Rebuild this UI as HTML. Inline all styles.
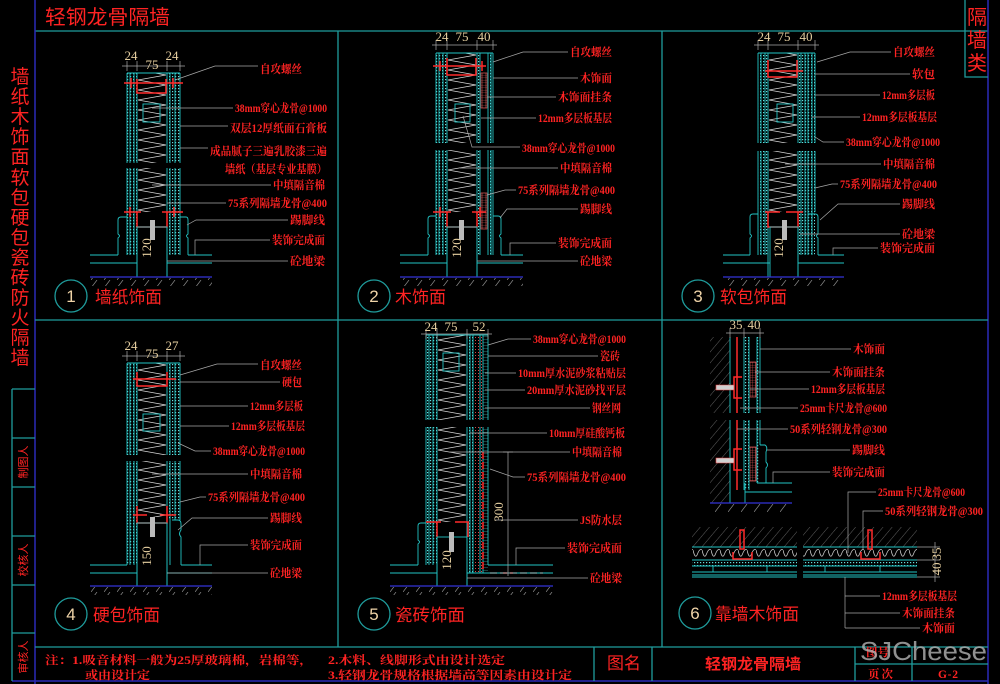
<!DOCTYPE html>
<html><head><meta charset="utf-8"><style>
html,body{margin:0;padding:0;background:#000;}
svg{display:block;}
.lb{font-family:"Liberation Serif","Noto Serif CJK SC",serif;font-size:11.5px;font-weight:bold;fill:#ff2323;}
.hd{font-family:"Liberation Sans","Noto Sans CJK SC",sans-serif;fill:#ff2323;}
.dm{font-family:"Liberation Serif","Noto Serif CJK SC",serif;font-size:13px;fill:#e6cfa0;}
.nm{font-family:"Liberation Sans",sans-serif;font-size:17px;fill:#f0d4a8;}
.cy{stroke:#22c4c4;stroke-width:0.9;fill:none;}
.rd{stroke:#ff2a2a;stroke-width:1.5;fill:none;}
.ld{stroke:#a8a8a8;stroke-width:0.7;fill:none;}
.gr{stroke:#1f9c9c;stroke-width:1.3;fill:none;}
.bl{stroke:#2a2ab8;stroke-width:1.5;fill:none;}
.gd{stroke:#3434d8;stroke-width:1.2;fill:none;}
</style></head><body>
<svg width="1000" height="684" viewBox="0 0 1000 684" xmlns="http://www.w3.org/2000/svg">
<defs>
<pattern id="dots" width="3" height="3" patternUnits="userSpaceOnUse"><rect x="1" y="1" width="1.2" height="1.2" fill="#6dd"/></pattern>
<pattern id="rdots" width="3" height="3" patternUnits="userSpaceOnUse"><rect x="1" y="1" width="1" height="1" fill="#d44"/></pattern>
<pattern id="hatch" width="7" height="7" patternUnits="userSpaceOnUse" patternTransform="rotate(40)"><line x1="0" y1="0" x2="0" y2="7" stroke="#8a8a8a" stroke-width="0.7"/></pattern>
<pattern id="ghatch" width="13" height="8" patternUnits="userSpaceOnUse"><line x1="0" y1="8" x2="6" y2="0" stroke="#8a8a8a" stroke-width="0.7"/></pattern>
<pattern id="zz1" x="137" y="0" width="30" height="10" patternUnits="userSpaceOnUse"><path d="M1 0L29 5L1 10" fill="none" stroke="#d8d8d8" stroke-width="0.7"/></pattern>
<pattern id="zz2" x="447" y="0" width="30" height="10" patternUnits="userSpaceOnUse"><path d="M1 0L29 5L1 10" fill="none" stroke="#d8d8d8" stroke-width="0.7"/></pattern>
<pattern id="zz3" x="768" y="0" width="30" height="10" patternUnits="userSpaceOnUse"><path d="M1 0L29 5L1 10" fill="none" stroke="#d8d8d8" stroke-width="0.7"/></pattern>
<pattern id="pink" width="2.5" height="2.5" patternUnits="userSpaceOnUse"><path d="M0 0H2.5M0 0V2.5" stroke="#e05a5a" stroke-width="0.6"/></pattern>
<pattern id="tile" width="5" height="3" patternUnits="userSpaceOnUse"><path d="M0 0H5" stroke="#5cc" stroke-width="0.6"/></pattern>
<pattern id="wave" x="0" y="548" width="9" height="12" patternUnits="userSpaceOnUse"><path d="M0 2Q2.25 12 4.5 6Q6.75 0 9 2" fill="none" stroke="#c8c8c8" stroke-width="0.8"/></pattern>
</defs>
<rect width="1000" height="684" fill="#000"/>

<!-- FRAME -->
<text class="hd" x="45" y="24" font-size="20" textLength="125" lengthAdjust="spacingAndGlyphs">轻钢龙骨隔墙</text>
<path class="gr" d="M35 31H988"/>
<path class="bl" d="M35 0V684M988 0V684M12 681H988"/>
<path class="gr" d="M965 0V77H988"/>
<g class="hd" font-size="20" text-anchor="middle">
<text x="977" y="24">隔</text><text x="977" y="47">墙</text><text x="977" y="70">类</text>
</g>
<path class="gr" d="M338 31V647M662 31V647M35 320H988M35 647H988"/>
<g class="hd" font-size="19" text-anchor="middle">
<text x="20" y="83">墙</text><text x="20" y="103">纸</text><text x="20" y="123">木</text><text x="20" y="143">饰</text><text x="20" y="163">面</text><text x="20" y="184">软</text><text x="20" y="204">包</text><text x="20" y="224">硬</text><text x="20" y="244">包</text><text x="20" y="264">瓷</text><text x="20" y="284">砖</text><text x="20" y="304">防</text><text x="20" y="324">火</text><text x="20" y="344">隔</text><text x="20" y="364">墙</text>
</g>
<path class="gr" d="M12 389V681M12 389H35M12 438H35M12 487H35M12 536H35M12 585H35M12 633H35"/>
<g class="hd" font-size="11" fill="#d82020" text-anchor="middle">
<text transform="translate(27 462) rotate(-90)">制图人</text>
<text transform="translate(27 560) rotate(-90)">校核人</text>
<text transform="translate(27 657) rotate(-90)">审核人</text>
</g>

<!-- BOTTOM BAR -->
<path class="gr" d="M594 647V681M652 647V681M855 647V681M912 647V681M855 664H988"/>
<g class="lb" font-weight="normal" fill="#e02020" font-size="11.5">
<text x="45" y="664" textLength="268" lengthAdjust="spacingAndGlyphs">注：1.吸音材料一般为25厚玻璃棉，岩棉等，</text>
<text x="85" y="679" textLength="65" lengthAdjust="spacingAndGlyphs">或由设计定</text>
<text x="328" y="664" textLength="177" lengthAdjust="spacingAndGlyphs">2.木料、线脚形式由设计选定</text>
<text x="328" y="679" textLength="244" lengthAdjust="spacingAndGlyphs">3.轻钢龙骨规格根据墙高等因素由设计定</text>
</g>
<text class="hd" x="607" y="669" font-size="17" fill="#e02020" textLength="34" lengthAdjust="spacingAndGlyphs">图名</text>
<text class="hd" x="705" y="669" font-size="15" font-weight="bold" textLength="96" lengthAdjust="spacingAndGlyphs">轻钢龙骨隔墙</text>
<text class="lb" x="866" y="656" font-size="11" font-weight="normal" fill="#d02020">图号</text>
<text class="lb" x="868" y="678" font-size="12" font-weight="normal" fill="#e02020" textLength="25">页次</text>
<text class="lb" x="938" y="678" font-size="12" font-weight="normal" fill="#e02020" textLength="20">G-2</text>
<text x="860" y="660" font-family="Liberation Sans, sans-serif" font-size="26" fill="#b4b4b4" fill-opacity="0.8" textLength="127" lengthAdjust="spacingAndGlyphs">SJCheese</text>

<!-- ================= PANEL 1 ================= -->
<rect x="127" y="73" width="10" height="182" fill="url(#dots)"/>
<rect x="167" y="73" width="13" height="182" fill="url(#dots)"/>
<rect x="137" y="73" width="30" height="139" fill="url(#zz1)"/>
<path class="cy" d="M127 73V255M130 73V255M134 73V255M137 73V277M167 73V277M170 73V255M175 73V255M180 73V255M127 73H180"/>
<rect x="143" y="104" width="17" height="18" fill="#000" class="cy"/>
<rect x="120" y="163" width="66" height="5" fill="#000"/>
<path class="rd" d="M124 83H183M137 79V93H166V79M131 78V88M173 78V88"/>
<path class="rd" d="M124 212H141M162 212H183M137 212V227H167V212M130 207V217M174 207V217"/>
<rect x="137" y="227" width="30" height="50" fill="url(#hatch)" class="cy"/>
<rect x="150" y="220" width="5" height="20" fill="#bbb"/>
<path class="cy" d="M127 217H121Q118 217 118 220V234Q121 236 118 238V255M180 217H186Q188 217 188 220V234Q185 236 188 238V255"/>
<path class="cy" d="M90 255H118M188 255H212M90 263H137M167 263H212"/>
<path class="gd" d="M90 277H212"/>
<rect x="90" y="278" width="122" height="8" fill="url(#ghatch)"/>
<path class="ld" d="M122 66H185M127 61V71M137 61V71M167 61V71M180 61V71"/>
<text class="dm" x="131" y="60" text-anchor="middle">24</text><text class="dm" x="152" y="69" text-anchor="middle">75</text><text class="dm" x="172" y="60" text-anchor="middle">24</text>
<text class="dm" font-size="11" transform="translate(151 248) rotate(-90)" text-anchor="middle">120</text>
<path class="ld" d="M175 80L215 66H258M152 108H233M180 126H228M180 148H208M152 185H271M167 203H226M187 225L196 220H288M195 255V240H270M167 261H288"/>
<text class="lb" x="260" y="73" textLength="42" lengthAdjust="spacingAndGlyphs">自攻螺丝</text>
<text class="lb" x="235" y="112" textLength="92" lengthAdjust="spacingAndGlyphs">38mm穿心龙骨@1000</text>
<text class="lb" x="230" y="132" textLength="97" lengthAdjust="spacingAndGlyphs">双层12厚纸面石膏板</text>
<text class="lb" x="210" y="155" textLength="117" lengthAdjust="spacingAndGlyphs">成品腻子三遍乳胶漆三遍</text>
<text class="lb" x="225" y="173" textLength="102" lengthAdjust="spacingAndGlyphs">墙纸（基层专业基膜）</text>
<text class="lb" x="273" y="189" textLength="52" lengthAdjust="spacingAndGlyphs">中填隔音棉</text>
<text class="lb" x="228" y="207" textLength="99" lengthAdjust="spacingAndGlyphs">75系列隔墙龙骨@400</text>
<text class="lb" x="290" y="224" textLength="35" lengthAdjust="spacingAndGlyphs">踢脚线</text>
<text class="lb" x="272" y="244" textLength="53" lengthAdjust="spacingAndGlyphs">装饰完成面</text>
<text class="lb" x="290" y="265" textLength="35" lengthAdjust="spacingAndGlyphs">砼地梁</text>
<circle cx="71" cy="296" r="16" class="gr" stroke-width="1.1"/>
<text class="nm" x="71" y="302" text-anchor="middle">1</text>
<text class="hd" x="95" y="303" font-size="17" textLength="67" lengthAdjust="spacingAndGlyphs">墙纸饰面</text>

<!-- ================= PANEL 2 ================= -->
<rect x="436" y="53" width="11" height="202" fill="url(#dots)"/>
<rect x="477" y="53" width="4" height="202" fill="url(#dots)"/>
<rect x="488" y="53" width="5" height="202" fill="url(#dots)"/>
<rect x="481" y="73" width="6" height="35" fill="url(#pink)" stroke="#e05a5a" stroke-width="0.7"/>
<rect x="481" y="193" width="6" height="36" fill="url(#pink)" stroke="#e05a5a" stroke-width="0.7"/>
<rect x="447" y="53" width="30" height="159" fill="url(#zz2)"/>
<path class="cy" d="M436 53V255M439 53V255M443 53V255M447 53V277M477 53V277M480 53V255M488 53V255M491 53V255M493 53V255M436 53H493"/>
<rect x="455" y="104" width="15" height="18" fill="#000" class="cy"/>
<rect x="428" y="143" width="72" height="7" fill="#000"/>
<path class="rd" d="M433 66H486M447 58V75H476V58M440 61V71M482 61V71"/>
<path class="rd" d="M433 212H451M472 212H486M447 212V227H477V212M440 207V217M480 207V217"/>
<rect x="447" y="227" width="30" height="50" fill="url(#hatch)" class="cy"/>
<rect x="459" y="220" width="5" height="20" fill="#bbb"/>
<path class="cy" d="M436 216H431Q428 216 428 219V234Q431 236 428 238V255M493 216H498Q501 216 501 219V234Q498 236 501 238V255"/>
<path class="cy" d="M400 255H428M501 255H523M400 263H447M477 263H523"/>
<path class="gd" d="M400 277H523"/>
<rect x="400" y="278" width="123" height="8" fill="url(#ghatch)"/>
<path class="ld" d="M432 45H497M436 40V50M447 40V50M477 40V50M493 40V50"/>
<text class="dm" x="442" y="41" text-anchor="middle">24</text><text class="dm" x="462" y="41" text-anchor="middle">75</text><text class="dm" x="484" y="41" text-anchor="middle">40</text>
<text class="dm" font-size="11" transform="translate(461 248) rotate(-90)" text-anchor="middle">120</text>
<path class="ld" d="M493 62L523 52H568M493 78H578M487 97H556M481 118H536M463 116L472 147H520M460 168H558M487 195L505 190H516M500 218L507 209H578M510 255V243H556M477 261H578"/>
<text class="lb" x="570" y="56" textLength="42" lengthAdjust="spacingAndGlyphs">自攻螺丝</text>
<text class="lb" x="580" y="82" textLength="32" lengthAdjust="spacingAndGlyphs">木饰面</text>
<text class="lb" x="558" y="101" textLength="54" lengthAdjust="spacingAndGlyphs">木饰面挂条</text>
<text class="lb" x="538" y="122" textLength="74" lengthAdjust="spacingAndGlyphs">12mm多层板基层</text>
<text class="lb" x="522" y="152" textLength="93" lengthAdjust="spacingAndGlyphs">38mm穿心龙骨@1000</text>
<text class="lb" x="560" y="172" textLength="52" lengthAdjust="spacingAndGlyphs">中填隔音棉</text>
<text class="lb" x="518" y="194" textLength="97" lengthAdjust="spacingAndGlyphs">75系列隔墙龙骨@400</text>
<text class="lb" x="580" y="213" textLength="32" lengthAdjust="spacingAndGlyphs">踢脚线</text>
<text class="lb" x="558" y="247" textLength="54" lengthAdjust="spacingAndGlyphs">装饰完成面</text>
<text class="lb" x="580" y="265" textLength="32" lengthAdjust="spacingAndGlyphs">砼地梁</text>
<circle cx="374" cy="296" r="16" class="gr" stroke-width="1.1"/>
<text class="nm" x="374" y="302" text-anchor="middle">2</text>
<text class="hd" x="395" y="303" font-size="17" textLength="51" lengthAdjust="spacingAndGlyphs">木饰面</text>

<!-- ================= PANEL 3 ================= -->
<rect x="758" y="53" width="10" height="202" fill="url(#dots)"/>
<rect x="798" y="53" width="17" height="202" fill="url(#dots)"/>
<rect x="768" y="53" width="30" height="159" fill="url(#zz3)"/>
<path class="cy" d="M758 53V255M761 53V255M765 53V255M768 53V277M798 53V277M801 53V255M805 53V255M808 53V255M812 53V255M815 53V212M758 53H815"/>
<rect x="777" y="104" width="16" height="18" fill="#000" class="cy"/>
<rect x="750" y="143" width="72" height="8" fill="#000"/>
<path class="rd" d="M765 71H803M768 60V77H797V60"/>
<path class="rd" d="M765 212H780M786 212H803M768 212V227H798V212"/>
<rect x="770" y="227" width="28" height="50" fill="url(#hatch)" class="cy"/>
<rect x="782" y="220" width="5" height="20" fill="#bbb"/>
<path class="cy" d="M758 214H753Q750 214 750 217V234Q753 236 750 238V255M808 214H815Q818 214 818 217V234Q815 236 818 238V255"/>
<path class="cy" d="M723 255H750M818 255H844M723 263H770M798 263H844"/>
<path class="gd" d="M723 277H844"/>
<rect x="723" y="278" width="121" height="8" fill="url(#ghatch)"/>
<path class="ld" d="M754 45H819M758 40V50M768 40V50M798 40V50M815 40V50"/>
<text class="dm" x="764" y="41" text-anchor="middle">24</text><text class="dm" x="784" y="41" text-anchor="middle">75</text><text class="dm" x="806" y="41" text-anchor="middle">40</text>
<text class="dm" font-size="11" transform="translate(783 248) rotate(-90)" text-anchor="middle">120</text>
<path class="ld" d="M817 62L850 52H891M815 74H910M815 95H880M812 117H860M815 137L823 142H844M785 164H881M815 188L832 184H838M820 220L838 204H900M800 234H900M833 255V248H878"/>
<text class="lb" x="893" y="56" textLength="42" lengthAdjust="spacingAndGlyphs">自攻螺丝</text>
<text class="lb" x="912" y="78" textLength="23" lengthAdjust="spacingAndGlyphs">软包</text>
<text class="lb" x="882" y="99" textLength="53" lengthAdjust="spacingAndGlyphs">12mm多层板</text>
<text class="lb" x="862" y="121" textLength="75" lengthAdjust="spacingAndGlyphs">12mm多层板基层</text>
<text class="lb" x="846" y="146" textLength="94" lengthAdjust="spacingAndGlyphs">38mm穿心龙骨@1000</text>
<text class="lb" x="883" y="168" textLength="52" lengthAdjust="spacingAndGlyphs">中填隔音棉</text>
<text class="lb" x="840" y="188" textLength="97" lengthAdjust="spacingAndGlyphs">75系列隔墙龙骨@400</text>
<text class="lb" x="902" y="208" textLength="33" lengthAdjust="spacingAndGlyphs">踢脚线</text>
<text class="lb" x="902" y="238" textLength="33" lengthAdjust="spacingAndGlyphs">砼地梁</text>
<text class="lb" x="880" y="252" textLength="55" lengthAdjust="spacingAndGlyphs">装饰完成面</text>
<circle cx="698" cy="296" r="16" class="gr" stroke-width="1.1"/>
<text class="nm" x="698" y="302" text-anchor="middle">3</text>
<text class="hd" x="720" y="303" font-size="17" textLength="67" lengthAdjust="spacingAndGlyphs">软包饰面</text>

<!-- ================= PANEL 4 ================= -->
<rect x="127" y="363" width="10" height="202" fill="url(#dots)"/>
<rect x="167" y="363" width="13" height="157" fill="url(#dots)"/>
<rect x="137" y="363" width="30" height="154" fill="url(#zz1)"/>
<path class="cy" d="M127 363V565M130 363V565M134 363V565M137 363V586M167 363V586M170 363V565M175 363V520M180 363V520M127 363H180"/>
<rect x="143" y="414" width="17" height="17" fill="#000" class="cy"/>
<rect x="120" y="455" width="66" height="6" fill="#000"/>
<path class="rd" d="M133 379H176M137 372V386H167V372"/>
<path class="rd" d="M133 515H147M160 515H176M137 506V523H167V506"/>
<rect x="137" y="523" width="30" height="63" fill="url(#hatch)" class="cy"/>
<rect x="150" y="517" width="5" height="20" fill="#bbb"/>
<path class="cy" d="M172 520H178Q181 520 181 524V530Q178 534 181 537V565"/>
<path class="cy" d="M90 565H127M181 565H212M90 573H137M167 573H212"/>
<path class="gd" d="M90 586H212"/>
<rect x="90" y="587" width="122" height="8" fill="url(#ghatch)"/>
<path class="ld" d="M122 356H185M127 351V361M137 351V361M167 351V361M180 351V361"/>
<text class="dm" x="131" y="350" text-anchor="middle">24</text><text class="dm" x="152" y="358" text-anchor="middle">75</text><text class="dm" x="172" y="350" text-anchor="middle">27</text>
<text class="dm" font-size="11" transform="translate(151 556) rotate(-90)" text-anchor="middle">150</text>
<path class="ld" d="M180 375L217 364H258M180 382H280M180 406H248M180 426H229M178 443L195 451H211M152 474H248M180 502L200 497H206M178 530L192 518H268M200 565V545H248M167 573H268"/>
<text class="lb" x="260" y="369" textLength="42" lengthAdjust="spacingAndGlyphs">自攻螺丝</text>
<text class="lb" x="282" y="386" textLength="20" lengthAdjust="spacingAndGlyphs">硬包</text>
<text class="lb" x="250" y="410" textLength="53" lengthAdjust="spacingAndGlyphs">12mm多层板</text>
<text class="lb" x="231" y="430" textLength="74" lengthAdjust="spacingAndGlyphs">12mm多层板基层</text>
<text class="lb" x="213" y="455" textLength="92" lengthAdjust="spacingAndGlyphs">38mm穿心龙骨@1000</text>
<text class="lb" x="250" y="478" textLength="52" lengthAdjust="spacingAndGlyphs">中填隔音棉</text>
<text class="lb" x="208" y="501" textLength="97" lengthAdjust="spacingAndGlyphs">75系列隔墙龙骨@400</text>
<text class="lb" x="270" y="522" textLength="32" lengthAdjust="spacingAndGlyphs">踢脚线</text>
<text class="lb" x="250" y="549" textLength="52" lengthAdjust="spacingAndGlyphs">装饰完成面</text>
<text class="lb" x="270" y="577" textLength="32" lengthAdjust="spacingAndGlyphs">砼地梁</text>
<circle cx="71" cy="614" r="16" class="gr" stroke-width="1.1"/>
<text class="nm" x="71" y="620" text-anchor="middle">4</text>
<text class="hd" x="93" y="621" font-size="17" textLength="67" lengthAdjust="spacingAndGlyphs">硬包饰面</text>

<!-- ================= PANEL 5 ================= -->
<rect x="426" y="335" width="11" height="230" fill="url(#dots)"/>
<rect x="467" y="335" width="6" height="238" fill="url(#dots)"/>
<rect x="473" y="335" width="10" height="238" fill="url(#rdots)"/>
<rect x="483" y="335" width="5" height="238" fill="url(#tile)"/>
<rect x="437" y="335" width="30" height="187" fill="url(#zz1)"/>
<path class="cy" d="M426 335V565M429 335V565M433 335V565M437 335V586M467 335V586M470 335V573M473 335V573M480 335V573M483 335V573M488 335V565M426 335H488"/>
<rect x="443" y="353" width="16" height="18" fill="#000" class="cy"/>
<rect x="418" y="420" width="76" height="7" fill="#000"/>
<path class="rd" d="M426 522H441M455 522H469M437 522V537M468 522V537"/>
<path class="rd" d="M483 452V572M490 573H543" stroke-dasharray="7 3"/>
<rect x="437" y="537" width="30" height="49" fill="url(#hatch)" class="cy"/>
<rect x="449" y="532" width="5" height="20" fill="#bbb"/>
<path class="cy" d="M426 523H421Q418 523 418 526V540Q421 542 418 544V565"/>
<path class="cy" d="M390 565H418M488 565H553M390 573H437M467 573H553"/>
<path class="gd" d="M390 586H553"/>
<rect x="390" y="587" width="163" height="8" fill="url(#ghatch)"/>
<path class="ld" d="M421 334H492M426 329V339M437 329V339M467 329V339M488 329V339"/>
<text class="dm" x="431" y="331" text-anchor="middle">24</text><text class="dm" x="451" y="331" text-anchor="middle">75</text><text class="dm" x="479" y="331" text-anchor="middle">52</text>
<path class="ld" d="M508 452V576M503 452H513M503 573H513"/>
<text class="dm" transform="translate(503 512) rotate(-90)" text-anchor="middle">300</text>
<text class="dm" font-size="11" transform="translate(451 560) rotate(-90)" text-anchor="middle">120</text>
<path class="ld" d="M488 345L508 339H531M488 356H598M485 373H516M485 390H525M485 408H590M470 433H547M450 452H570M490 469L513 477H525M495 520H578M516 565V548H565M467 578H588"/>
<text class="lb" x="533" y="343" textLength="93" lengthAdjust="spacingAndGlyphs">38mm穿心龙骨@1000</text>
<text class="lb" x="600" y="360" textLength="20" lengthAdjust="spacingAndGlyphs">瓷砖</text>
<text class="lb" x="518" y="377" textLength="108" lengthAdjust="spacingAndGlyphs">10mm厚水泥砂浆粘贴层</text>
<text class="lb" x="527" y="394" textLength="99" lengthAdjust="spacingAndGlyphs">20mm厚水泥砂找平层</text>
<text class="lb" x="592" y="412" textLength="29" lengthAdjust="spacingAndGlyphs">钢丝网</text>
<text class="lb" x="549" y="437" textLength="76" lengthAdjust="spacingAndGlyphs">10mm厚硅酸钙板</text>
<text class="lb" x="572" y="456" textLength="50" lengthAdjust="spacingAndGlyphs">中填隔音棉</text>
<text class="lb" x="527" y="481" textLength="99" lengthAdjust="spacingAndGlyphs">75系列隔墙龙骨@400</text>
<text class="lb" x="580" y="524" textLength="42" lengthAdjust="spacingAndGlyphs">JS防水层</text>
<text class="lb" x="567" y="552" textLength="55" lengthAdjust="spacingAndGlyphs">装饰完成面</text>
<text class="lb" x="590" y="582" textLength="32" lengthAdjust="spacingAndGlyphs">砼地梁</text>
<circle cx="374" cy="614" r="16" class="gr" stroke-width="1.1"/>
<text class="nm" x="374" y="620" text-anchor="middle">5</text>
<text class="hd" x="395" y="621" font-size="17" textLength="70" lengthAdjust="spacingAndGlyphs">瓷砖饰面</text>

<!-- ================= PANEL 6 ================= -->
<rect x="710" y="337" width="20" height="166" fill="url(#hatch)"/>
<rect x="744" y="337" width="5" height="153" fill="url(#dots)"/>
<rect x="757" y="337" width="3" height="146" fill="url(#dots)"/>
<rect x="749" y="362" width="7" height="35" fill="url(#pink)" stroke="#e05a5a" stroke-width="0.7"/>
<rect x="749" y="447" width="7" height="34" fill="url(#pink)" stroke="#e05a5a" stroke-width="0.7"/>
<path class="cy" d="M730 337V503M744 337V490M749 337V490M757 337V483M760 337V445"/>
<path class="rd" d="M737 337V490" stroke-width="1.2"/>
<rect x="704" y="413" width="62" height="7" fill="#000"/>
<path class="rd" d="M742 377H734V398H742M742 449H734V470H742"/>
<path d="M716 385H734V390H716Z M716 458H734V463H716Z" fill="#d0d0d0" stroke="#e44" stroke-width="0.6"/>
<path class="cy" d="M760 445H765Q768 447 766 452V462Q769 465 766 468V483"/>
<path class="cy" d="M757 483H792M745 492H792M745 483V503"/>
<path class="gd" d="M710 503H792"/>
<rect x="710" y="504" width="82" height="8" fill="url(#ghatch)"/>
<path class="ld" d="M726 333H764M730 328V338M744 328V338M760 328V338"/>
<text class="dm" x="736" y="329" text-anchor="middle">35</text><text class="dm" x="754" y="329" text-anchor="middle">40</text>
<!-- plan sections -->
<rect x="692" y="527" width="105" height="20" fill="url(#hatch)"/>
<rect x="803" y="527" width="114" height="20" fill="url(#hatch)"/>
<rect x="692" y="548" width="105" height="12" fill="url(#wave)"/>
<rect x="803" y="548" width="114" height="12" fill="url(#wave)"/>
<rect x="692" y="560" width="105" height="6" fill="url(#dots)"/>
<rect x="803" y="560" width="114" height="6" fill="url(#dots)"/>
<rect x="713" y="566" width="54" height="6" fill="url(#dots)" class="cy"/>
<rect x="825" y="566" width="55" height="6" fill="url(#dots)" class="cy"/>
<path class="cy" d="M692 547H797M692 560H797M692 566H797M692 572H797M692 575H797M692 577H797M803 547H917M803 560H917M803 566H917M803 572H917M803 575H917M803 577H917"/>
<path class="rd" d="M740 530H744V549H740ZM733 552V559H752V552M868 530H872V549H868ZM861 552V559H880V552" stroke-width="1.3"/>
<path class="ld" d="M917 547H940M917 560H940M917 577H940M935 542V582"/>
<text class="dm" font-size="11" transform="translate(941 554) rotate(-90)" text-anchor="middle">35</text>
<text class="dm" font-size="11" transform="translate(941 569) rotate(-90)" text-anchor="middle">40</text>
<path class="ld" d="M760 349H851M755 372H830M750 389H809M740 408H798M737 429H788M767 450H850M773 483V472H830M848 553V492H876M863 550V511H883M845 577V628M845 596H880M845 613H900M845 628H920"/>
<text class="lb" x="853" y="353" textLength="32" lengthAdjust="spacingAndGlyphs">木饰面</text>
<text class="lb" x="832" y="376" textLength="53" lengthAdjust="spacingAndGlyphs">木饰面挂条</text>
<text class="lb" x="811" y="393" textLength="74" lengthAdjust="spacingAndGlyphs">12mm多层板基层</text>
<text class="lb" x="800" y="412" textLength="87" lengthAdjust="spacingAndGlyphs">25mm卡尺龙骨@600</text>
<text class="lb" x="790" y="433" textLength="97" lengthAdjust="spacingAndGlyphs">50系列轻钢龙骨@300</text>
<text class="lb" x="852" y="454" textLength="33" lengthAdjust="spacingAndGlyphs">踢脚线</text>
<text class="lb" x="832" y="476" textLength="53" lengthAdjust="spacingAndGlyphs">装饰完成面</text>
<text class="lb" x="878" y="496" textLength="87" lengthAdjust="spacingAndGlyphs">25mm卡尺龙骨@600</text>
<text class="lb" x="885" y="515" textLength="98" lengthAdjust="spacingAndGlyphs">50系列轻钢龙骨@300</text>
<text class="lb" x="882" y="600" textLength="75" lengthAdjust="spacingAndGlyphs">12mm多层板基层</text>
<text class="lb" x="902" y="617" textLength="53" lengthAdjust="spacingAndGlyphs">木饰面挂条</text>
<text class="lb" x="922" y="632" textLength="33" lengthAdjust="spacingAndGlyphs">木饰面</text>
<circle cx="695" cy="613" r="16" class="gr" stroke-width="1.1"/>
<text class="nm" x="695" y="619" text-anchor="middle">6</text>
<text class="hd" x="715" y="620" font-size="17" textLength="84" lengthAdjust="spacingAndGlyphs">靠墙木饰面</text>
</svg>
</body></html>
